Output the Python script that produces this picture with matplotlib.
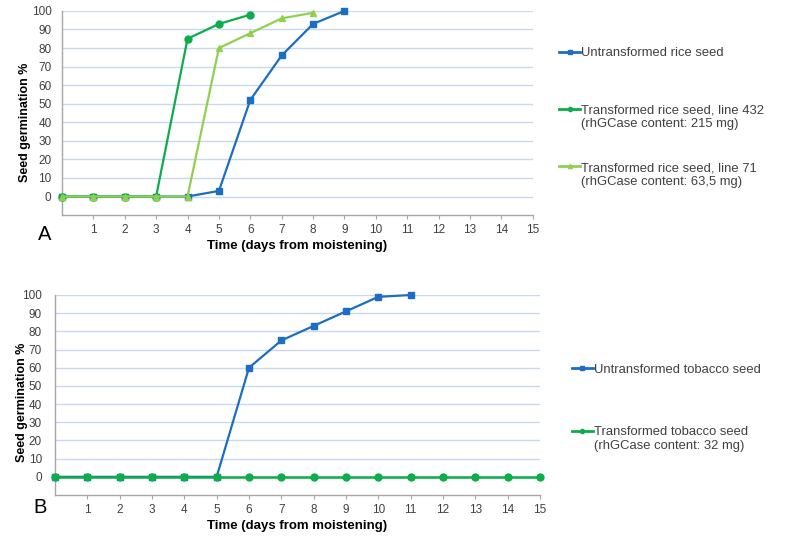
import matplotlib.pyplot as plt

plt.rcParams['font.family'] = ['Liberation Sans', 'DejaVu Sans']

# panel A: rice
rice_days_untr = [0, 1, 2, 3, 4, 5, 6, 7, 8, 9]
rice_untr = [0, 0, 0, 0, 0, 3, 52, 76, 93, 100]
rice_days_432 = [0, 1, 2, 3, 4, 5, 6]
rice_432 = [0, 0, 0, 0, 85, 93, 98]
rice_days_71 = [0, 1, 2, 3, 4, 5, 6, 7, 8]
rice_71 = [0, 0, 0, 0, 0, 80, 88, 96, 99]

# panel B: tobacco
tob_days_untr = [0, 1, 2, 3, 4, 5, 6, 7, 8, 9, 10, 11]
tob_untr = [0, 0, 0, 0, 0, 0, 60, 75, 83, 91, 99, 100]
tob_days_tr = list(range(16))
tob_tr = [0] * 16

x_ticks = list(range(1, 16))
y_ticks = list(range(0, 101, 10))

BLUE = '#1b6ec2'
DGREEN = '#0cad4a'
LGREEN = '#8fd14f'
GRID = '#c9d8f0'
AXIS = '#a6a6a6'
TXT = '#404040'
LEG_FS = 9.4

fig = plt.figure(figsize=(8, 5.39), dpi=100)
axA = fig.add_axes([0.0775, 0.601, 0.5884, 0.3787])
axB = fig.add_axes([0.06875, 0.0816, 0.60625, 0.3711])


def style(ax, ypad, label_xy):
    ax.set_xlim(0, 15)
    ax.set_ylim(-10, 100)
    ax.set_xticks(x_ticks)
    ax.set_yticks(y_ticks)
    ax.grid(axis='y', color=GRID, linewidth=1)
    ax.set_axisbelow(True)
    for s in ['top', 'right']:
        ax.spines[s].set_visible(False)
    for s in ['left', 'bottom']:
        ax.spines[s].set_color(AXIS)
        ax.spines[s].set_linewidth(1)
    ax.tick_params(axis='y', length=0, pad=ypad, labelsize=8.5, labelcolor=TXT)
    ax.tick_params(axis='x', length=3, color=AXIS, pad=3.5, labelsize=8.5, labelcolor=TXT)
    ax.set_xlabel('Time (days from moistening)', fontsize=9.5, fontweight='bold', labelpad=3)
    ax.set_ylabel('Seed germination %', fontsize=9, fontweight='bold')
    ax.yaxis.set_label_coords(*label_xy)


def legend(ax, anchor, spacing):
    leg = ax.legend(loc='center left', bbox_to_anchor=anchor, bbox_transform=fig.transFigure,
                    frameon=False, fontsize=LEG_FS, handlelength=1.6, handletextpad=0.05,
                    labelspacing=spacing, borderpad=0, borderaxespad=0,
                    markerscale=0.6, labelcolor=TXT)
    for t in leg.get_texts():
        t.set_linespacing(1.15)
    # put the handle next to the first text line, as Excel does
    shift = LEG_FS * 1.15 / 2 + 0.6
    for h in leg.legend_handles:
        h.set_ydata([y + shift for y in h.get_ydata()])
        h.set_linewidth(2)
    return leg


style(axA, 7.5, (-0.0656, 0.456))
axA.plot(rice_days_untr, rice_untr, color=BLUE, lw=1.6, marker='s', ms=5,
         label='Untransformed rice seed\n ', clip_on=False, zorder=3)
axA.plot(rice_days_432, rice_432, color=DGREEN, lw=1.6, marker='o', ms=5,
         label='Transformed rice seed, line 432\n(rhGCase content: 215 mg)', clip_on=False, zorder=3)
axA.plot(rice_days_71, rice_71, color=LGREEN, lw=1.6, marker='^', ms=5,
         label='Transformed rice seed, line 71\n(rhGCase content: 63,5 mg)', clip_on=False, zorder=3)
legend(axA, (0.699, 0.782), 2.45)
fig.text(0.048, 0.565, 'A', fontsize=14.5, ha='left', va='center')

style(axB, 9.5, (-0.0558, 0.4625))
axB.plot(tob_days_untr, tob_untr, color=BLUE, lw=1.6, marker='s', ms=5,
         label='Untransformed tobacco seed\n ', clip_on=False, zorder=3)
axB.plot(tob_days_tr, tob_tr, color=DGREEN, lw=1.8, marker='o', ms=5,
         label='Transformed tobacco seed\n(rhGCase content: 32 mg)', clip_on=False, zorder=3)
legend(axB, (0.715, 0.243), 2.83)
fig.text(0.042, 0.058, 'B', fontsize=14.5, ha='left', va='center')

plt.savefig('out.png', dpi=100)
